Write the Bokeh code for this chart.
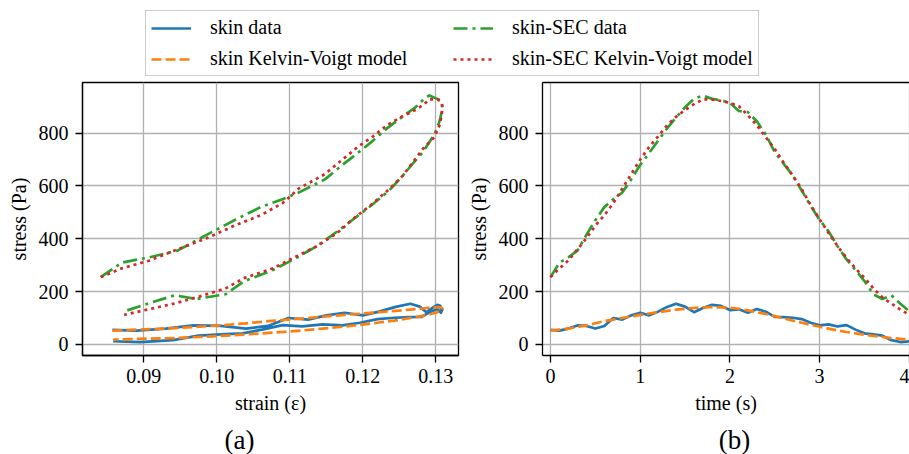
from bokeh.plotting import figure
from bokeh.models import Range1d, FixedTicker, Legend, LegendItem, Label, LinearAxis, NumeralTickFormatter
from bokeh.layouts import column, row
from bokeh.embed import file_html
from bokeh.resources import INLINE
from bokeh.core.properties import value

# ---------------- data ----------------
time_s = [0.0, 0.1, 0.2, 0.3, 0.4, 0.5, 0.6, 0.7, 0.8, 0.9, 1.0, 1.1, 1.2, 1.3, 1.4, 1.5, 1.6, 1.7, 1.8, 1.9, 2.0,
          2.1, 2.2, 2.3, 2.4, 2.5, 2.6, 2.7, 2.8, 2.9, 3.0, 3.1, 3.2, 3.3, 3.4, 3.5, 3.6, 3.7, 3.8, 3.9, 4.0]

strain_skin = [0.0857, 0.0890, 0.0930, 0.0968, 0.1005, 0.1040, 0.1070, 0.1098, 0.1125, 0.1150, 0.1175, 0.1200,
               0.1222, 0.1245, 0.1265, 0.1278, 0.1287, 0.1295, 0.1302, 0.1306, 0.1308,
               0.1309, 0.1307, 0.1302, 0.1293, 0.1280, 0.1263, 0.1243, 0.1220, 0.1196, 0.1172, 0.1145,
               0.1117, 0.1090, 0.1062, 0.1035, 0.1005, 0.0975, 0.0940, 0.0895, 0.0858]

strain_sec = [0.0841, 0.0870, 0.0908, 0.0946, 0.0986, 0.1024, 0.1060, 0.1090, 0.1112, 0.1148, 0.1172, 0.1193,
              0.1214, 0.1233, 0.1253, 0.1272, 0.1284, 0.1291, 0.1302, 0.1306, 0.1308,
              0.1309, 0.1308, 0.1305, 0.1298, 0.1282, 0.1268, 0.1255, 0.1236, 0.1211, 0.1186, 0.1165,
              0.1137, 0.1105, 0.1077, 0.1038, 0.1012, 0.0972, 0.0942, 0.0905, 0.0873]

skin_data = [55, 52, 60, 72, 70, 60, 70, 100, 94, 110, 120, 110, 124, 142, 154, 143, 122, 138, 150, 146, 130,
             133, 120, 134, 124, 104, 103, 101, 96, 82, 72, 76, 68, 73, 56, 42, 38, 33, 16, 9, 12]

skin_model = [52, 56, 60, 66, 72, 80, 88, 94, 100, 106, 112, 117, 122, 127, 132, 135, 138, 140, 141, 140, 139,
              135, 129, 122, 115, 107, 99, 90, 82, 74, 67, 60, 53, 47, 42, 37, 32, 28, 24, 21, 18]

sec_data = [255, 310, 330, 355, 415, 470, 520, 550, 575, 625, 680, 725, 772, 818, 860, 898, 930, 943, 930, 925, 915,
            884, 880, 845, 795, 728, 684, 640, 583, 525, 472, 428, 372, 322, 282, 240, 190, 172, 186, 154, 125]

sec_model = [255, 288, 318, 360, 402, 450, 489, 535, 590, 645, 700, 748, 788, 830, 862, 888, 910, 928, 928, 922, 915,
             902, 868, 830, 785, 740, 688, 640, 588, 528, 474, 422, 372, 328, 288, 252, 212, 178, 155, 132, 112]

strain_ticks = [0.09, 0.10, 0.11, 0.12, 0.13]
time_ticks = [0, 1, 2, 3, 4]
stress_ticks = [0, 200, 400, 600, 800]

series_labels = ["skin data", "skin Kelvin-Voigt model", "skin-SEC data", "skin-SEC Kelvin-Voigt model"]
captions = ["(a)", "(b)"]

# ---------------- style ----------------
FONT = "Liberation Serif"
C_BLUE, C_ORANGE, C_GREEN, C_RED = "#1f77b4", "#ff7f0e", "#2ca02c", "#d62728"
STYLES = [
    dict(line_color=C_BLUE, line_width=2.7, line_dash="solid"),
    dict(line_color=C_ORANGE, line_width=2.7, line_dash="10 4"),
    dict(line_color=C_GREEN, line_width=2.7, line_dash="14 5 3 5"),
    dict(line_color=C_RED, line_width=2.7, line_dash="3 4"),
]


def style_axes(p, xticks, xlabel, xfmt=None):
    p.xaxis.ticker = FixedTicker(ticks=xticks)
    p.yaxis.ticker = FixedTicker(ticks=stress_ticks)
    p.xgrid.ticker = FixedTicker(ticks=xticks)
    p.ygrid.ticker = FixedTicker(ticks=stress_ticks)
    if xfmt is not None:
        p.xaxis.formatter = xfmt
    p.xaxis.axis_label = xlabel
    p.yaxis.axis_label = "stress (Pa)"
    for ax in (p.xaxis, p.yaxis):
        ax.axis_line_color = "black"
        ax.axis_line_width = 1.3
        ax.major_tick_line_color = "black"
        ax.major_tick_line_width = 1.3
        ax.major_tick_out = 7
        ax.major_tick_in = 0
        ax.minor_tick_line_color = None
        ax.major_label_text_font = FONT
        ax.major_label_text_font_size = "20px"
        ax.major_label_text_color = "black"
        ax.axis_label_text_font = FONT
        ax.axis_label_text_font_size = "20px"
        ax.axis_label_text_font_style = "normal"
        ax.axis_label_text_color = "black"
    p.xaxis.major_label_standoff = 6
    p.yaxis.major_label_standoff = 7
    p.xaxis.axis_label_standoff = 6
    p.yaxis.axis_label_standoff = 6
    for g in (p.xgrid, p.ygrid):
        g.grid_line_color = "#b0b0b0"
        g.grid_line_width = 1.3


def make_fig(x_range, frame_width, border_right):
    p = figure(frame_width=frame_width, frame_height=273, x_range=x_range, y_range=Range1d(-42, 992),
               toolbar_location=None, output_backend="svg",
               min_border_left=82, min_border_right=border_right, min_border_top=4, min_border_bottom=64,
               background_fill_color="white", border_fill_color="white")
    return p


ys = [skin_data, skin_model, sec_data, sec_model]

# ---------------- panel (a) ----------------
pa = make_fig(Range1d(0.0816, 0.1331), 376, 2)
style_axes(pa, strain_ticks, "strain (ε)", NumeralTickFormatter(format="0.00"))
pa.outline_line_color = "black"
pa.outline_line_width = 1.3
pa.outline_line_alpha = 1.0
xs_a = [strain_skin, strain_skin, strain_sec, strain_sec]
for x, y, st in zip(xs_a, ys, STYLES):
    pa.line(x, y, line_join="round", **st)

# ---------------- panel (b) ----------------
pb = make_fig(Range1d(-0.089, 4.002), 367, 0)
style_axes(pb, time_ticks, "time (s)")
pb.outline_line_color = None
top = LinearAxis(ticker=FixedTicker(ticks=[]), major_tick_out=0, major_tick_in=0, minor_tick_out=0,
                 minor_tick_in=0, major_label_standoff=0, axis_line_color="black", axis_line_width=1.3)
pb.add_layout(top, "above")
for y, st in zip(ys, STYLES):
    pb.line(time_s, y, line_join="round", **st)

# ---------------- legend strip ----------------
pl = figure(width=909, height=78, x_range=Range1d(0, 1), y_range=Range1d(0, 1), toolbar_location=None,
            output_backend="svg", x_axis_type=None, y_axis_type=None, min_border=0,
            outline_line_color=None)
items = []
for lab, st in zip(series_labels, STYLES):
    r = pl.line([-3, -2], [-3, -2], **st)
    items.append(LegendItem(label=value(lab), renderers=[r]))
leg = Legend(items=items, location=(145, 2), orientation="vertical", nrows=2,
             label_text_font=FONT, label_text_font_size="20px", label_text_color="black",
             glyph_width=40, glyph_height=20, label_height=20, label_width=235, label_standoff=19,
             spacing=8, padding=5, margin=0,
             border_line_color="#cccccc", border_line_width=1.3, border_line_alpha=1.0,
             background_fill_color="white", background_fill_alpha=1.0)
pl.add_layout(leg, "center")

# ---------------- caption strip ----------------
pc = figure(width=909, height=35, x_range=Range1d(0, 1), y_range=Range1d(0, 1), toolbar_location=None,
            output_backend="svg", x_axis_type=None, y_axis_type=None, min_border=0,
            outline_line_color=None)
for cx, cap in zip([239, 734], captions):
    pc.add_layout(Label(x=cx, y=15, x_units="screen", y_units="screen", text=cap,
                        text_font=FONT, text_font_size="27px", text_align="center",
                        text_baseline="alphabetic", text_color="black"))

layout = column(pl, row(pa, pb), pc)
open("out.html", "w").write(file_html(layout, INLINE))
